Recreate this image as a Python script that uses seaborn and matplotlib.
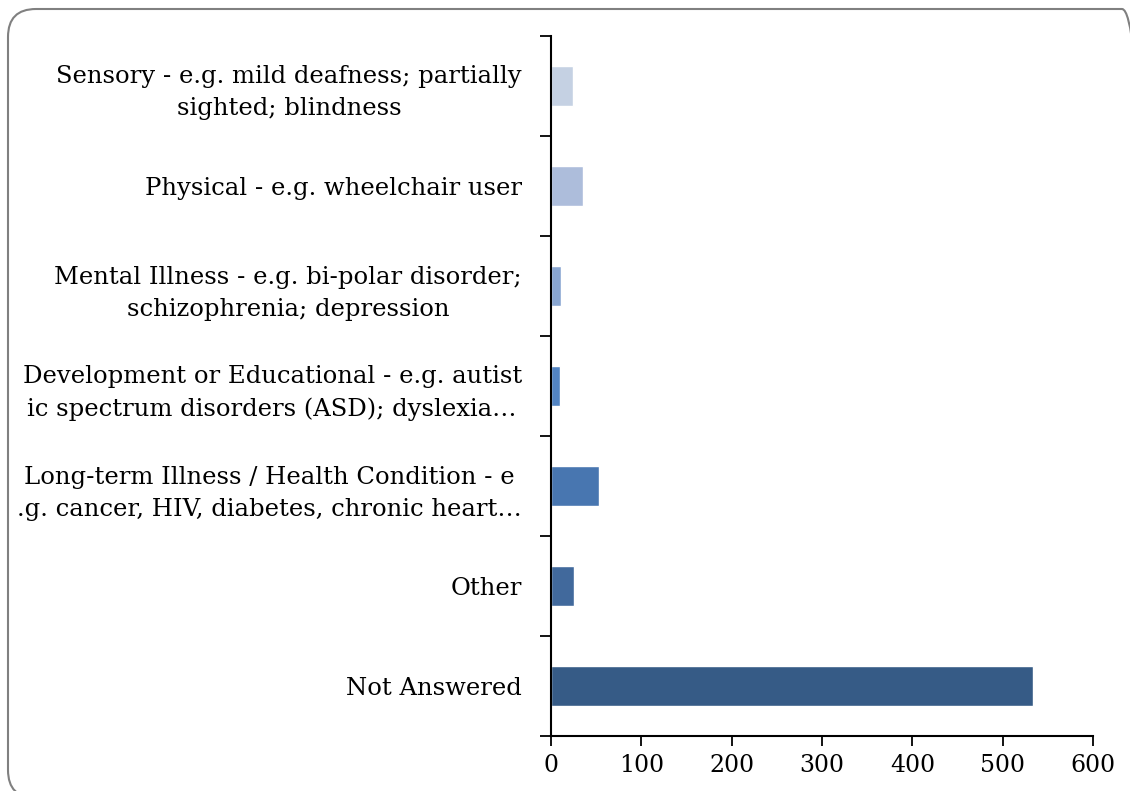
import matplotlib
matplotlib.use("Agg")
import matplotlib.pyplot as plt
import seaborn as sns
import pandas as pd
from matplotlib.patches import FancyBboxPatch
from matplotlib.ticker import FixedLocator
from matplotlib.transforms import IdentityTransform

# Data
categories = [
    "Sensory - e.g. mild deafness; partially\nsighted; blindness",
    "Physical - e.g. wheelchair user",
    "Mental Illness - e.g. bi-polar disorder;\nschizophrenia; depression",
    "Development or Educational - e.g. autist\nic spectrum disorders (ASD); dyslexia\u2026",
    "Long-term Illness / Health Condition - e\n.g. cancer, HIV, diabetes, chronic heart\u2026",
    "Other",
    "Not Answered",
]
counts = [24, 35, 11, 10, 53, 25, 533]
bar_colors = ["#C5D1E3", "#ADBDDB", "#89A6D1", "#5284C3", "#4876B0", "#41699C", "#365B86"]
x_ticks = [0, 100, 200, 300, 400, 500, 600]

df = pd.DataFrame({"category": categories, "count": counts})

sns.set_style("white")
plt.rcParams["font.family"] = ["DejaVu Serif"]
plt.rcParams["text.color"] = "black"
plt.rcParams["xtick.color"] = "black"
plt.rcParams["ytick.color"] = "black"

fig = plt.figure(figsize=(11.30, 7.91), dpi=100)
ax = fig.add_axes([0.4876, 0.0695, 0.4797, 0.885])

sns.barplot(data=df, y="category", x="count", hue="category", palette=bar_colors,
            orient="h", width=0.4, legend=False, ax=ax, saturation=1)

ax.set_xlim(0, 600)
ax.set_ylim(len(categories) - 0.5, -0.5)
ax.set_xticks(x_ticks)
ax.set_xticklabels([str(t) for t in x_ticks], fontsize=17)
ax.set_xlabel("")
ax.set_ylabel("")

ax.set_yticks(range(len(categories)))
ax.set_yticklabels(categories, fontsize=17.5, multialignment="center", linespacing=1.5)
ax.tick_params(axis="y", which="major", length=0, pad=21)
ax.yaxis.set_minor_locator(FixedLocator([i - 0.5 for i in range(len(categories) + 1)]))
ax.tick_params(axis="y", which="minor", length=8, width=1.3, color="black", direction="out", left=True)
ax.tick_params(axis="x", which="major", length=7, width=1.3, color="black", direction="out",
               bottom=True, pad=6)

for side in ["top", "right"]:
    ax.spines[side].set_visible(False)
for side in ["left", "bottom"]:
    ax.spines[side].set_color("black")
    ax.spines[side].set_linewidth(1.5)

# rounded outer frame (pixel coordinates), runs off the right and bottom edges
frame = FancyBboxPatch((8, -7), 1142, 789,
                       boxstyle="round,pad=0,rounding_size=28",
                       transform=IdentityTransform(), facecolor="none",
                       edgecolor="#808080", linewidth=1.5)
fig.patches.append(frame)

fig.savefig("out.png", dpi=100)
